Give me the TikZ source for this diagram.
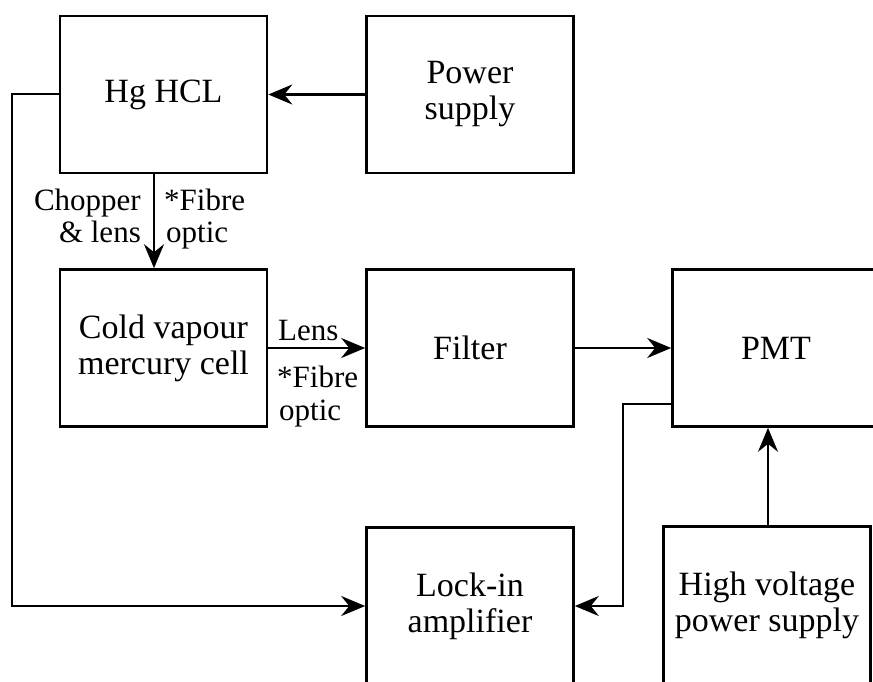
\documentclass[tikz,border=0pt]{standalone}
\usepackage{fontspec}
\newfontfamily\tms{Liberation Serif}
\usetikzlibrary{arrows.meta}
\begin{document}
\begin{tikzpicture}[x=1pt,y=-1pt,
  every node/.style={font=\tms\fontsize{31}{33}\selectfont},
  blk/.style={draw,line width=2.6pt,minimum width=207pt,minimum height=157pt,align=center,inner sep=0pt,
    font=\tms\fontsize{34}{36}\selectfont},
  conn/.style={line width=2.6pt},
  arr/.style={conn,-{Stealth[length=24pt,width=20pt,inset=8pt]}},
  lbl/.style={inner sep=0pt}]
\useasboundingbox (0,0) rectangle (873,681);
\clip (0,0) rectangle (873,681);
\fill[white] (0,0) rectangle (873,681);
% boxes
\node[blk] (hg)     at (163.5,94.5) {Hg HCL};
\node[blk] (ps)     at (470,94.5)   {Power\\supply};
\node[blk] (cold)   at (163.5,348)  {Cold vapour\\mercury cell};
\node[blk] (filter) at (470,348)    {Filter};
\node[blk] (pmt)    at (776,348)    {PMT};
\node[blk] (lock)   at (470,606)    {Lock-in\\amplifier};
\node[blk] (hv)     at (767,605)    {High voltage\\power supply};
% helper coordinates
\coordinate (fb) at (12,94);
\coordinate (dn) at (154,0);
\coordinate (pm) at (623,404);
\coordinate (hvx) at (768,0);
% connectors
\draw[arr] (ps.west) -- (hg.east);
\draw[arr] (hg.west |- fb) -- (fb) |- (lock.west);
\draw[arr] (hg.south -| dn) -- (cold.north -| dn);
\draw[arr] (cold.east) -- (filter.west);
\draw[arr] (filter.east) -- (pmt.west);
\draw[arr] (pmt.west |- pm) -- (pm) |- (lock.east);
\draw[arr] (hv.north -| hvx) -- (pmt.south -| hvx);
% labels
\node[lbl,anchor=base east] (l1) at (141,210) {Chopper};
\node[lbl,anchor=base east] (l2) at (141,242) {\&\ lens};
\node[lbl,anchor=base west] (l3) at (164,210) {*Fibre};
\node[lbl,anchor=base west] (l4) at (166,242) {optic};
\node[lbl,anchor=base west] (l5) at (278,340) {Lens};
\node[lbl,anchor=base west] (l6) at (277,387) {*Fibre};
\node[lbl,anchor=base west] (l7) at (279,420) {optic};
\end{tikzpicture}
\end{document}
